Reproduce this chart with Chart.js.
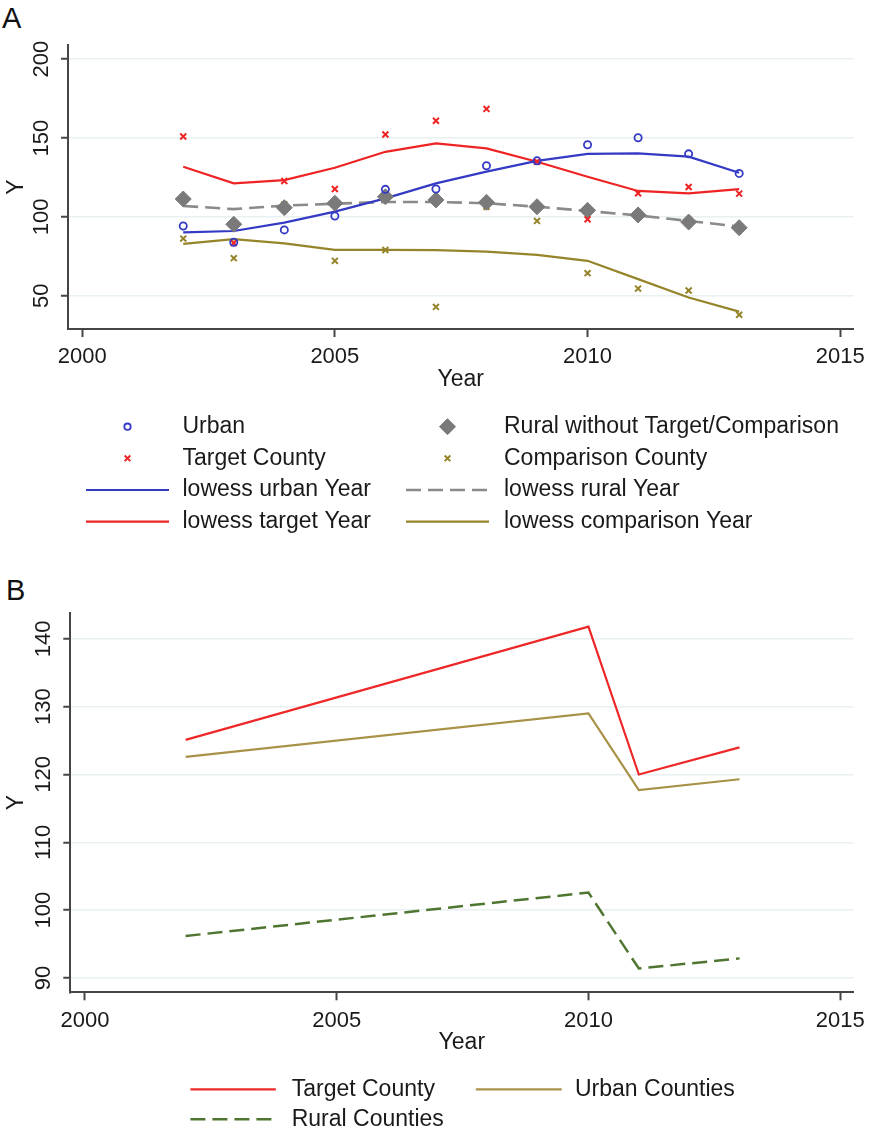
<!DOCTYPE html>
<html>
<head>
<meta charset="utf-8">
<script src="https://cdn.jsdelivr.net/npm/chart.js@4.4.0/dist/chart.umd.min.js"></script>
<style>
  body { margin: 0; background: #fff; }
  #page { position: relative; width: 872px; height: 1132px; overflow: hidden; }
  .tag { position: absolute; font-family: "Liberation Sans", Arial, sans-serif; font-size: 29px; line-height: 1; color: #111; }
  canvas { position: absolute; left: 0; }
</style>
</head>
<body>
<div id="page">
  <div class="tag" style="left:2px;top:4px;">A</div>
  <canvas id="chartA" width="872" height="560" style="top:0"></canvas>
  <div class="tag" style="left:6px;top:576px;">B</div>
  <canvas id="chartB" width="872" height="572" style="top:560px"></canvas>
</div>
<script>
// ---- panel A data ----
var years = [2002, 2003, 2004, 2005, 2006, 2007, 2008, 2009, 2010, 2011, 2012, 2013];
var urban      = [94.3, 84, 91.8, 100.6, 117.5, 117.7, 132.5, 135.6, 145.8, 150.2, 140, 127.6];
var target     = [151, 83.5, 122.8, 117.7, 152.3, 161, 168.5, 135, 98.5, 115, 119, 114.8];
var rural      = [111.4, 95.4, 105.9, 108.7, 112.8, 110.8, 109.3, 106.5, 104.2, 101.3, 96.8, 93.2];
var comparison = [86.3, 73.9, 108, 72.2, 79.1, 43, 106.5, 97.5, 64.4, 54.6, 53.4, 38];
var lowessUrban  = [90.3, 91.1, 96.4, 103.4, 111.8, 121.3, 128.7, 135.6, 140, 140.3, 138.2, 128];
var lowessTarget = [131.8, 121.3, 123.4, 131.2, 141.3, 146.6, 143.5, 135, 125.5, 116.5, 115, 117.7];
var lowessRural  = [107, 105, 107.2, 108.4, 109.5, 109.5, 108.7, 106.5, 103.8, 101, 97.5, 93.9];
var lowessComp   = [83, 86, 83.3, 79.1, 79.1, 79, 78, 76, 72.2, 60.6, 49, 40];
var yTicksA = [50, 100, 150, 200];

// ---- panel B data ----
var yearsB   = [2002, 2010, 2011, 2013];
var targetB  = [125.1, 141.8, 120, 124];
var urbanB   = [122.6, 129, 117.7, 119.3];
var ruralB   = [96.2, 102.6, 91.4, 92.9];
var yTicksB  = [90, 100, 110, 120, 130, 140];

var xTicks = [2000, 2005, 2010, 2015];

var FONT = '"Liberation Sans", Arial, Helvetica, sans-serif';
var AXIS = 'rgb(70,70,70)';
var GRID = 'rgb(232,240,242)';

function pts(xs, ys) {
    return xs.map(function (x, i) { return {x: x, y: ys[i]}; });
}

// legend in a two-column grid, drawn under the plot
function gridLegend(items, size) {
    return {
        id: 'gridLegend',
        afterDraw: function (chart) {
            var ctx = chart.ctx;
            ctx.save();
            items.forEach(function (it) {
                var ds = chart.data.datasets[it.ds];
                var cx = (it.x0 + it.x1) / 2;
                ctx.save();
                ctx.strokeStyle = ds.borderColor;
                ctx.fillStyle = ds.backgroundColor || 'rgba(0,0,0,0)';
                ctx.lineWidth = ds.borderWidth;
                if (ds.showLine) {
                    ctx.setLineDash(ds.borderDash || []);
                    ctx.beginPath();
                    ctx.moveTo(it.x0, it.y);
                    ctx.lineTo(it.x1, it.y);
                    ctx.stroke();
                } else {
                    Chart.helpers.drawPoint(ctx, {
                        pointStyle: ds.pointStyle, radius: it.r, rotation: 0,
                        borderWidth: ds.borderWidth
                    }, cx, it.y);
                }
                ctx.restore();

                ctx.font = size + 'px ' + FONT;
                ctx.fillStyle = '#1a1a1a';
                ctx.textBaseline = 'middle';
                ctx.textAlign = 'left';
                ctx.fillText(ds.label, it.tx, it.y);
            });
            ctx.restore();
        }
    };
}

function scales(xMin, xMax, yMin, yMax, yTicks, yWidth, yPad) {
    return {
        x: {
            type: 'linear', min: xMin, max: xMax,
            afterBuildTicks: function (s) { s.ticks = xTicks.map(function (v) { return {value: v}; }); },
            afterFit: function (s) { s.height = 66; },
            border: {color: AXIS, width: 2},
            grid: {drawOnChartArea: false, tickLength: 8, tickColor: AXIS, tickWidth: 2},
            ticks: {color: '#1a1a1a', font: {family: FONT, size: 22}, padding: 7, maxRotation: 0,
                    callback: function (v) { return String(v); }},
            title: {display: true, text: 'Year', color: '#1a1a1a', font: {family: FONT, size: 23}, padding: {top: 0, bottom: 2}}
        },
        y: {
            type: 'linear', min: yMin, max: yMax,
            afterBuildTicks: function (s) { s.ticks = yTicks.map(function (v) { return {value: v}; }); },
            afterFit: function (s) { s.width = yWidth; },
            border: {color: AXIS, width: 2},
            grid: {color: GRID, lineWidth: 1.5, tickLength: 7, tickColor: AXIS, tickWidth: 2},
            ticks: {color: '#1a1a1a', font: {family: FONT, size: 22}, padding: yPad,
                    minRotation: 90, maxRotation: 90, crossAlign: 'center',
                    callback: function (v) { return String(v); }},
            title: {display: true, text: 'Y', color: '#1a1a1a', font: {family: FONT, size: 23}, padding: {top: 3, bottom: 0}}
        }
    };
}

var BLUE = 'rgb(52,58,196)';
var RED = 'rgb(238,36,36)';
var OLIVE = 'rgb(150,132,42)';
var GRAY = 'rgb(122,122,122)';
var DASHGRAY = 'rgb(138,138,138)';

// 散點 + lowess (panel A)
new Chart(document.getElementById('chartA'), {
    type: 'scatter',
    data: {
        datasets: [
            {label: 'Urban', data: pts(years, urban), pointStyle: 'circle', pointRadius: 3.6,
             borderColor: BLUE, backgroundColor: 'rgba(0,0,0,0)', borderWidth: 1.8, showLine: false},
            {label: 'Target County', data: pts(years, target), pointStyle: 'crossRot', pointRadius: 4.2,
             borderColor: RED, backgroundColor: RED, borderWidth: 2, showLine: false},
            {label: 'Rural without Target/Comparison', data: pts(years, rural), pointStyle: 'rectRot', pointRadius: 8,
             borderColor: GRAY, backgroundColor: GRAY, borderWidth: 1, showLine: false},
            {label: 'Comparison County', data: pts(years, comparison), pointStyle: 'crossRot', pointRadius: 4.2,
             borderColor: OLIVE, backgroundColor: OLIVE, borderWidth: 2, showLine: false},
            {label: 'lowess urban Year', data: pts(years, lowessUrban), showLine: true, pointRadius: 0,
             borderColor: BLUE, borderWidth: 2.2, tension: 0},
            {label: 'lowess rural Year', data: pts(years, lowessRural), showLine: true, pointRadius: 0,
             borderColor: DASHGRAY, borderWidth: 2.6, borderDash: [15, 7], tension: 0},
            {label: 'lowess target Year', data: pts(years, lowessTarget), showLine: true, pointRadius: 0,
             borderColor: RED, borderWidth: 2.2, tension: 0},
            {label: 'lowess comparison Year', data: pts(years, lowessComp), showLine: true, pointRadius: 0,
             borderColor: OLIVE, borderWidth: 2.2, tension: 0}
        ]
    },
    options: {
        responsive: false,
        animation: false,
        devicePixelRatio: 1,
        layout: {padding: {left: 0, right: 16, top: 45, bottom: 165}},
        plugins: {legend: {display: false}, tooltip: {enabled: false}},
        scales: scales(1999.72, 2015.26, 29, 209, yTicksA, 68, 1)
    },
    plugins: [gridLegend([
        {ds: 0, x0: 86, x1: 169, tx: 182.5, y: 426.7, r: 3.2},
        {ds: 2, x0: 406, x1: 489, tx: 504, y: 426.7, r: 8},
        {ds: 1, x0: 86, x1: 169, tx: 182.5, y: 458.3, r: 4},
        {ds: 3, x0: 406, x1: 489, tx: 504, y: 458.3, r: 4},
        {ds: 4, x0: 86, x1: 169, tx: 182.5, y: 490},
        {ds: 5, x0: 406, x1: 489, tx: 504, y: 490},
        {ds: 6, x0: 86, x1: 169, tx: 182.5, y: 521.7},
        {ds: 7, x0: 406, x1: 489, tx: 504, y: 521.7}
    ], 23)]
});

// 折線圖 (panel B)
new Chart(document.getElementById('chartB'), {
    type: 'line',
    data: {
        datasets: [
            {label: 'Target County', data: pts(yearsB, targetB), borderColor: 'rgb(238,40,40)',
             borderWidth: 2.2, pointRadius: 0, tension: 0, showLine: true},
            {label: 'Urban Counties', data: pts(yearsB, urbanB), borderColor: 'rgb(168,146,72)',
             borderWidth: 2.2, pointRadius: 0, tension: 0, showLine: true},
            {label: 'Rural Counties', data: pts(yearsB, ruralB), borderColor: 'rgb(78,118,48)',
             borderWidth: 2.5, borderDash: [15, 7], pointRadius: 0, tension: 0, showLine: true}
        ]
    },
    options: {
        responsive: false,
        animation: false,
        devicePixelRatio: 1,
        layout: {padding: {left: 0, right: 17, top: 53, bottom: 73.7}},
        plugins: {legend: {display: false}, tooltip: {enabled: false}},
        scales: scales(1999.71, 2015.26, 87.9, 143.8, yTicksB, 70.3, 1)
    },
    plugins: [gridLegend([
        {ds: 0, x0: 190.4, x1: 275.8, tx: 291.7, y: 529.3},
        {ds: 1, x0: 475.8, x1: 561.7, tx: 575, y: 529.3},
        {ds: 2, x0: 190.4, x1: 275.8, tx: 291.7, y: 559.3}
    ], 23)]
});
</script>
</body>
</html>
